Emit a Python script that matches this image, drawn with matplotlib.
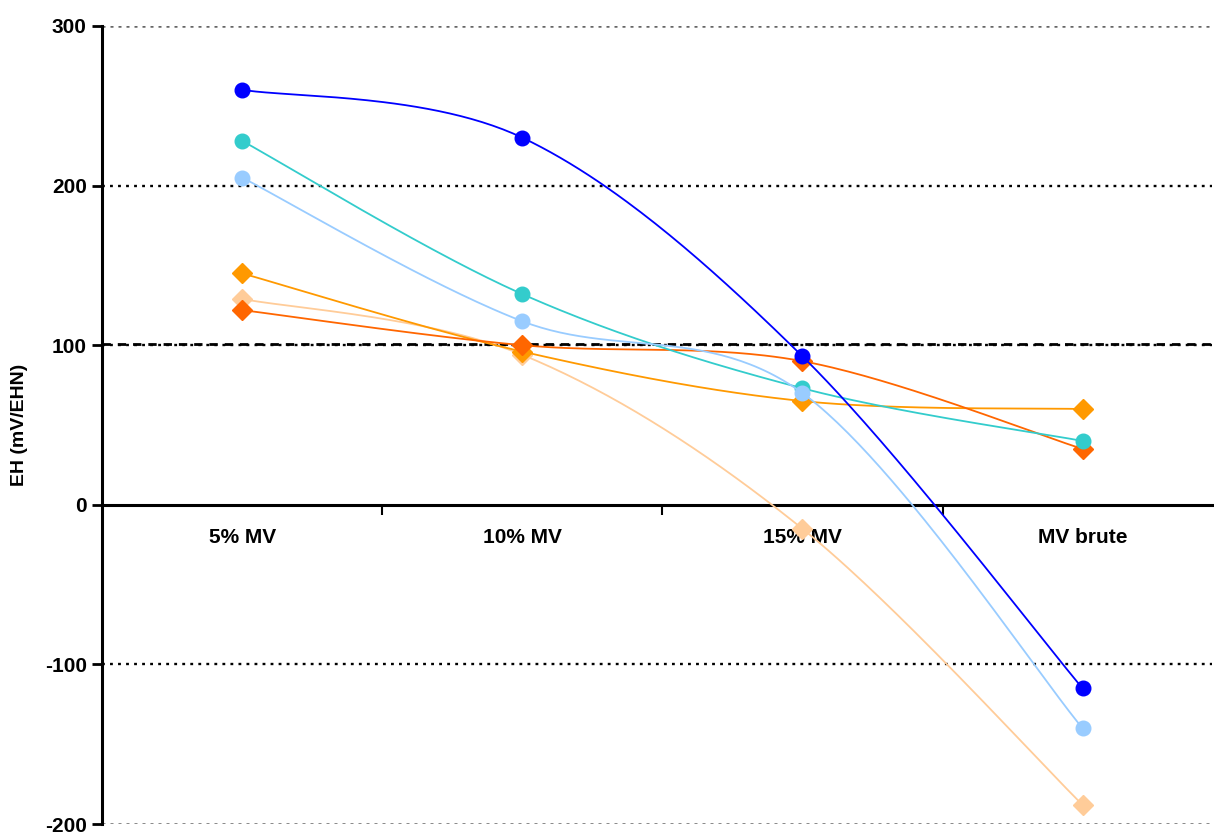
import numpy as np
import matplotlib
matplotlib.use("Agg")
import matplotlib.pyplot as plt

plt.rcParams['font.family'] = ['Liberation Sans', 'DejaVu Sans']
plt.rcParams['font.weight'] = 'bold'

categories = ['5% MV', '10% MV', '15% MV', 'MV brute']

s_blue = [260, 230, 93, -115]
s_turq = [228, 132, 73, 40]
s_lblue = [205, 115, 70, -140]
s_orange = [145, 96, 65, 60]
s_dorange = [122, 100, 90, 35]
s_peach = [129, 94, -15, -188]

y_ticks = [-200, -100, 0, 100, 200, 300]


def smooth(xs, ys, n=60):
    # Excel-style smoothed line: cubic Bezier with 1/6 tension
    p = np.column_stack([xs, ys]).astype(float)
    out = []
    for i in range(len(p) - 1):
        p0 = p[i - 1] if i > 0 else p[i]
        p1, p2 = p[i], p[i + 1]
        p3 = p[i + 2] if i + 2 < len(p) else p[i + 1]
        b1 = p1 + (p2 - p0) / 6
        b2 = p2 - (p3 - p1) / 6
        t = np.linspace(0, 1, n)[:, None]
        seg = ((1 - t) ** 3) * p1 + 3 * ((1 - t) ** 2) * t * b1 + 3 * (1 - t) * t ** 2 * b2 + t ** 3 * p2
        out.append(seg)
    seg = np.vstack(out)
    return seg[:, 0], seg[:, 1]


fig = plt.figure(figsize=(12.14, 8.35), dpi=100)
ax = fig.add_axes([0.084, 0.013, 0.914, 0.956])

x = np.arange(len(categories))

# gridlines
for yv in [200, 100, -100]:
    ax.axhline(yv, color='black', lw=1.7, ls=(0, (1.2, 2.2)), zorder=1)
for yv in [300, -200]:
    ax.axhline(yv, color='#666666', lw=1.8, ls=(0, (1.2, 2.0)), zorder=1)
ax.axhline(101, color='black', lw=2.0, ls=(0, (3, 2.5)), zorder=1)

series = [
    (s_peach, '#FFCC99', 'D', 10),
    (s_orange, '#FF9900', 'D', 10),
    (s_dorange, '#FF6600', 'D', 10),
    (s_turq, '#33CCCC', 'o', 10.5),
    (s_lblue, '#99CCFF', 'o', 10.5),
    (s_blue, '#0000FF', 'o', 10.5),
]
for i, (vals, col, mk, ms) in enumerate(series):
    sx, sy = smooth(x, vals)
    ax.plot(sx, sy, color=col, lw=1.3, zorder=3 + i)
    ax.plot(x, vals, ls='none', marker=mk, ms=ms, color=col, mec=col, zorder=3 + i)

ax.set_xlim(-0.5, 3.46)
ax.set_ylim(-200, 300)

for s in ['top', 'right']:
    ax.spines[s].set_visible(False)
ax.spines['bottom'].set_position(('data', 0))
ax.spines['bottom'].set_linewidth(2.2)
ax.spines['left'].set_linewidth(2.2)
ax.spines['bottom'].set_zorder(2)

ax.set_yticks(y_ticks)
ax.set_yticklabels([str(v) for v in y_ticks], fontsize=15, fontweight='bold')
ax.tick_params(axis='y', direction='out', length=7, width=2, pad=4)

ax.set_xticks([0.5, 1.5, 2.5])
ax.set_xticklabels([])
ax.tick_params(axis='x', which='major', direction='out', length=7, width=1.5)
ax.set_xticks(x, minor=True)
ax.set_xticklabels(categories, minor=True, fontsize=15, fontweight='bold')
ax.tick_params(axis='x', which='minor', length=0, pad=17)

ax.set_ylabel('EH (mV/EHN)', fontsize=14, fontweight='bold', labelpad=12)

fig.savefig('out.png', dpi=100)
